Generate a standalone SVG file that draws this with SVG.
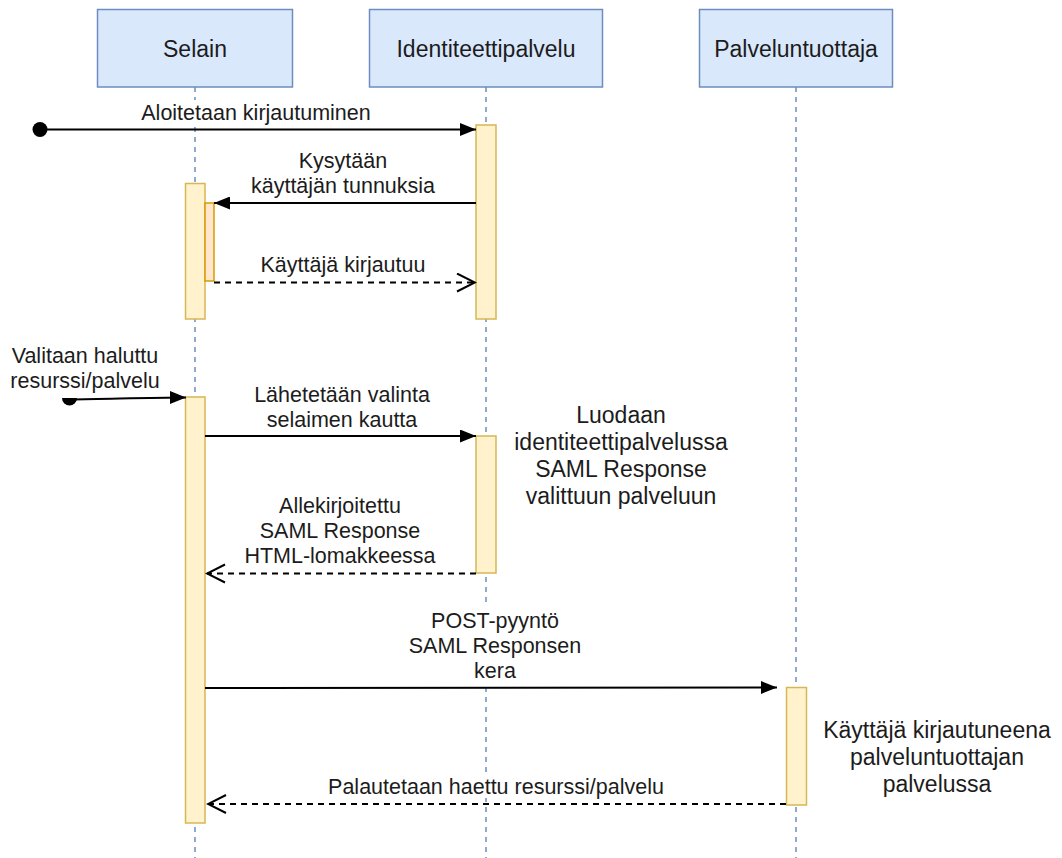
<svg xmlns="http://www.w3.org/2000/svg" width="1062" height="858" viewBox="0 0 1062 858">
  <style>
    .head { fill: #dae8fc; stroke: #6c8ebf; stroke-width: 1.5; }
    .life { stroke: #6c8ebf; stroke-width: 1.5; stroke-dasharray: 5 5; fill: none; }
    .act { fill: #fff2cc; stroke: #d6b656; stroke-width: 1.5; }
    .act2 { fill: #ffe6cc; stroke: #d79b00; stroke-width: 1.5; }
    .msg { stroke: #000; stroke-width: 2; fill: none; }
    .ret { stroke: #000; stroke-width: 2; fill: none; stroke-dasharray: 6 5; }
    .bg { fill: #fff; stroke: none; }
    text { font-family: "Liberation Sans", Arial, Helvetica, sans-serif; fill: #1c1c1c; text-anchor: middle; }
    .h { font-size: 23px; }
    .l { font-size: 21.5px; }
    .n { font-size: 23px; }
  </style>
  <defs>
    <marker id="block" viewBox="0 0 16 13" refX="16" refY="6.5" markerWidth="16" markerHeight="13" orient="auto" markerUnits="userSpaceOnUse">
      <path d="M0,0 L16,6.5 L0,13 Z" fill="#000"/>
    </marker>
    <marker id="open" viewBox="-1 -1 21 21" refX="18" refY="9" markerWidth="21" markerHeight="21" orient="auto" markerUnits="userSpaceOnUse">
      <path d="M0,0 L18,9 L0,18" fill="none" stroke="#000" stroke-width="2"/>
    </marker>
  </defs>

  <rect width="1062" height="858" fill="#fff"/>

  <!-- participants with their lifelines -->
  <g id="selain">
    <line class="life" x1="195" y1="87" x2="195" y2="858"/>
    <rect class="head" x="97.5" y="9.5" width="195" height="77.5"/>
    <text class="h" x="195" y="56.5">Selain</text>
  </g>
  <g id="identiteettipalvelu">
    <line class="life" x1="486" y1="87" x2="486" y2="858"/>
    <rect class="head" x="369.5" y="9.5" width="233" height="77.5"/>
    <text class="h" x="486" y="56.5">Identiteettipalvelu</text>
  </g>
  <g id="palveluntuottaja">
    <line class="life" x1="796" y1="87" x2="796" y2="858"/>
    <rect class="head" x="699.5" y="9.5" width="193" height="77.5"/>
    <text class="h" x="796" y="56.5">Palveluntuottaja</text>
  </g>

  <!-- label backgrounds that hide lifelines -->
  <g id="label-backgrounds">
    <rect class="bg" x="140" y="100" width="232" height="26"/>
    <rect class="bg" x="405" y="603" width="180" height="80"/>
    <rect class="bg" x="326" y="776" width="340" height="22"/>
  </g>

  <!-- activation bars -->
  <g id="selain-act1"><rect class="act" x="185.5" y="183.5" width="19.5" height="135.5"/></g>
  <g id="selain-act1-nested"><rect class="act2" x="205" y="203" width="9" height="78"/></g>
  <g id="idp-act1"><rect class="act" x="476" y="125" width="20" height="194"/></g>
  <g id="selain-act2"><rect class="act" x="185.5" y="397" width="19.5" height="426"/></g>
  <g id="idp-act2"><rect class="act" x="476" y="436" width="20" height="137"/></g>
  <g id="pt-act1"><rect class="act" x="786.5" y="687.5" width="20" height="117.5"/></g>

  <!-- messages -->
  <g id="connectors">
    <circle cx="40" cy="129.5" r="7.5" fill="#000"/>
    <line class="msg" x1="40" y1="129.5" x2="476" y2="129.5" marker-end="url(#block)"/>
    <line class="msg" x1="476" y1="203" x2="214" y2="203" marker-end="url(#block)"/>
    <line class="ret" x1="214" y1="282.5" x2="475" y2="282.5" marker-end="url(#open)"/>
    <path d="M62,398 A7.5,7.5 0 0 0 77,398 Z" fill="#000"/>
    <path class="msg" d="M70,399.5 C110,399 150,397.5 186,397.5" marker-end="url(#block)"/>
    <line class="msg" x1="205" y1="436" x2="476" y2="436" marker-end="url(#block)"/>
    <line class="ret" x1="476" y1="573.5" x2="207" y2="573.5" marker-end="url(#open)"/>
    <line class="msg" x1="205" y1="688" x2="777" y2="687.5" marker-end="url(#block)"/>
    <line class="ret" x1="786" y1="804" x2="208" y2="804" marker-end="url(#open)"/>
  </g>

  <!-- message labels -->
  <g id="labels">
    <text class="l" x="256" y="120">Aloitetaan kirjautuminen</text>
    <text class="l" x="343" y="168">Kysytään</text>
    <text class="l" x="343" y="193">käyttäjän tunnuksia</text>
    <text class="l" x="343" y="272">Käyttäjä kirjautuu</text>
    <text class="l" x="85" y="363">Valitaan haluttu</text>
    <text class="l" x="85" y="388">resurssi/palvelu</text>
    <text class="l" x="342" y="402">Lähetetään valinta</text>
    <text class="l" x="342" y="427">selaimen kautta</text>
    <text class="l" x="340" y="513">Allekirjoitettu</text>
    <text class="l" x="340" y="538">SAML Response</text>
    <text class="l" x="340" y="563">HTML-lomakkeessa</text>
    <text class="l" x="495" y="628">POST-pyyntö</text>
    <text class="l" x="495" y="653">SAML Responsen</text>
    <text class="l" x="495" y="678">kera</text>
    <text class="l" x="496" y="794">Palautetaan haettu resurssi/palvelu</text>
  </g>

  <!-- notes beside activations -->
  <g id="note-idp">
    <text class="n" x="621" y="423">Luodaan</text>
    <text class="n" x="621" y="450">identiteettipalvelussa</text>
    <text class="n" x="621" y="477">SAML Response</text>
    <text class="n" x="621" y="504">valittuun palveluun</text>
  </g>
  <g id="note-pt">
    <text class="n" x="937" y="738">Käyttäjä kirjautuneena</text>
    <text class="n" x="937" y="765">palveluntuottajan</text>
    <text class="n" x="937" y="792">palvelussa</text>
  </g>
</svg>
